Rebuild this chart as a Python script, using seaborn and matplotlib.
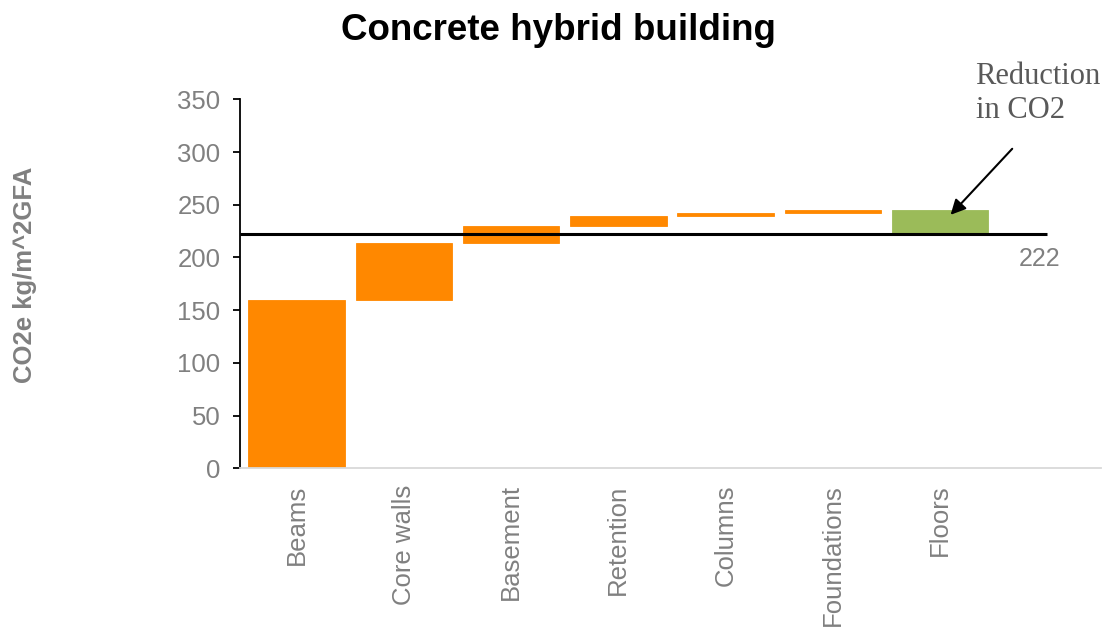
import pandas as pd
import matplotlib
matplotlib.use('Agg')
import matplotlib.pyplot as plt
import seaborn as sns

# %% Data
categories = ['Beams', 'Core walls', 'Basement', 'Retention', 'Columns', 'Foundations', 'Floors', ' ']
increments = [160, 54, 16, 9, 3, 3]          # orange steps
reduction_label = 'Floors'
reduction = -23                               # green step
total = 222

orange = '#FF8800'
green = '#9BBB59'
grey = '#808080'

# %% Build waterfall table
starts = []
running = 0
for v in increments:
    starts.append(running)
    running += v
up = pd.DataFrame({'category': categories[:len(increments)], 'height': increments, 'start': starts})
down = pd.DataFrame({'category': [reduction_label], 'height': [-reduction], 'start': [running + reduction]})

# %% Plot
sns.set_style('white')
plt.rcParams['font.family'] = ['Liberation Sans', 'DejaVu Sans']

fig = plt.figure(figsize=(11.09, 6.32), dpi=100)
ax = fig.add_axes([240 / 1109, 1 - 468.3 / 632, (1101 - 240) / 1109, (468.3 - 99.3) / 632])

sns.barplot(data=up, x='category', y='height', order=categories, bottom=up['start'].values,
            color=orange, saturation=1, width=0.9, edgecolor=orange, linewidth=0.6, ax=ax)
sns.barplot(data=down, x='category', y='height', order=categories, bottom=down['start'].values,
            color=green, saturation=1, width=0.9, edgecolor=green, linewidth=0.6, ax=ax)

ax.hlines(total, -0.527, 7.0, color='black', lw=2.2, zorder=3)
ax.annotate(str(total), xy=(6.93, total), xytext=(0, -9), textcoords='offset points',
            ha='center', va='top', fontsize=18, color=grey)

ax.set_xlim(-0.527, 7.5)
ax.set_ylim(0, 350)
ax.set_yticks(range(0, 351, 50))
ax.set_xlabel('')
ax.set_ylabel('')

ax.tick_params(axis='y', which='both', left=True, length=5, width=1.3, color='black',
               labelsize=18.5, labelcolor=grey, pad=9)
ax.tick_params(axis='x', bottom=False, labelsize=18.5, labelcolor=grey, pad=8)
for lab in ax.get_xticklabels():
    lab.set_rotation(90)
    lab.set_va('top')

for s in ['top', 'right']:
    ax.spines[s].set_visible(False)
ax.spines['left'].set_color('black')
ax.spines['left'].set_linewidth(1.3)
ax.spines['bottom'].set_color('#D9D9D9')
ax.spines['bottom'].set_linewidth(1.3)

# annotation
ax.text(6.33, 385, 'Reduction\nin CO2', ha='left', va='top', fontsize=22,
        family=['Liberation Serif', 'DejaVu Serif'], color='#595959', linespacing=1.2, clip_on=False)
ax.annotate('', xy=(6.08, 238.5), xytext=(6.69, 305),
            arrowprops=dict(arrowstyle='-|>,head_length=0.9,head_width=0.45', color='black', lw=1.5),
            annotation_clip=False)

fig.text(558.5 / 1109, 1 - 31 / 632, 'Concrete hybrid building', ha='center', va='center',
         fontsize=26.5, fontweight='bold', color='black')
fig.text(25 / 1109, 1 - 275 / 632, 'CO2e kg/m^2GFA', rotation=90, ha='center', va='center',
         fontsize=18.5, fontweight='bold', color=grey)

fig.savefig('out.png', dpi=100)
